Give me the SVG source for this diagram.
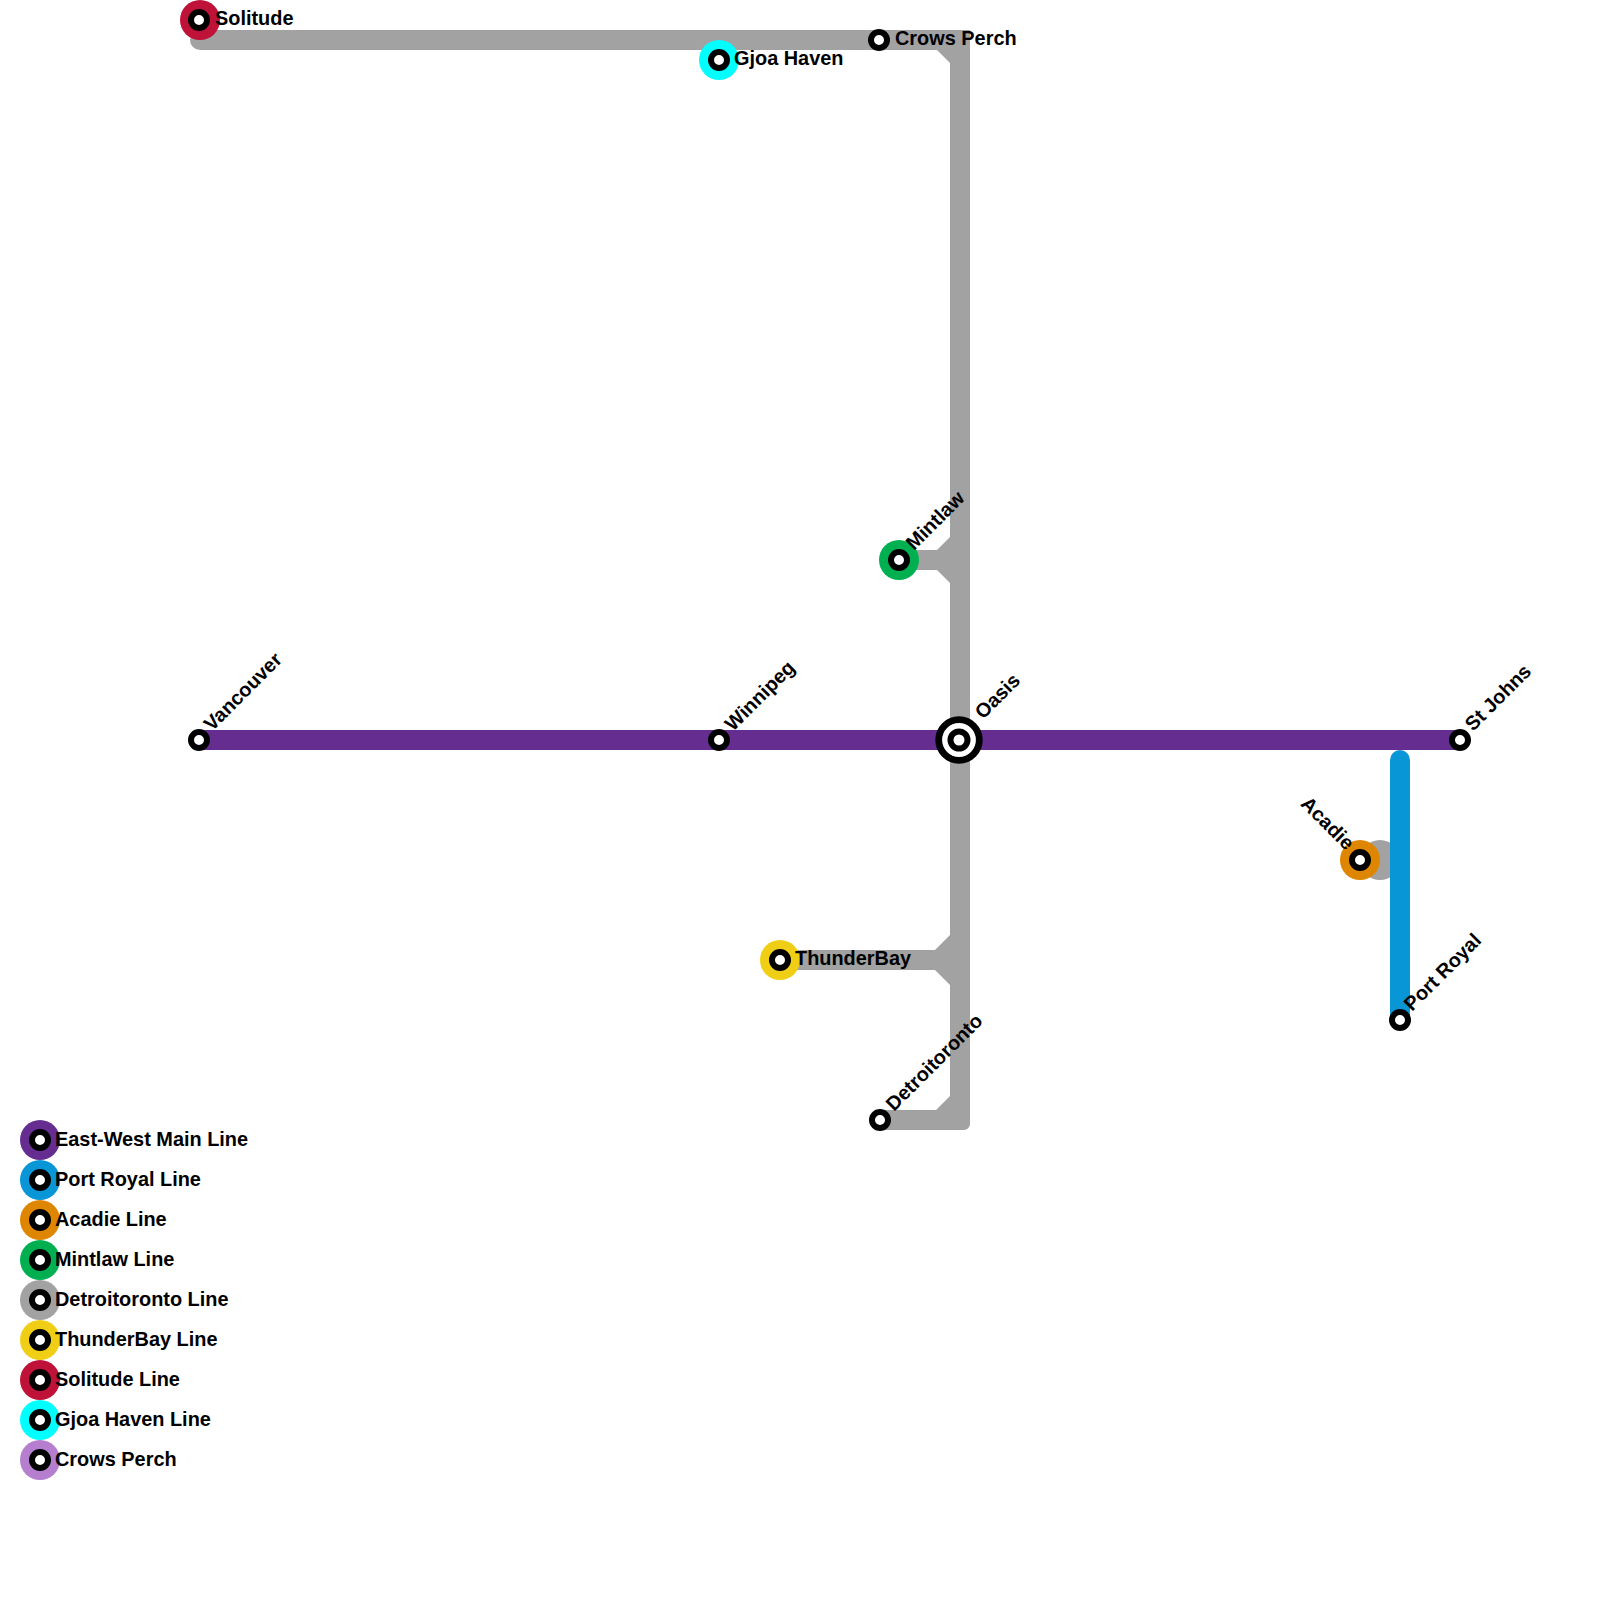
<svg xmlns="http://www.w3.org/2000/svg" width="1600" height="1600" viewBox="0 0 1600 1600">
<style>
.ln{fill:none;stroke-width:20;stroke-linejoin:miter}
.gray{stroke:#A2A2A2}
.gfill{fill:#A2A2A2}
.st{fill:#fff;stroke:#000;stroke-width:6}
.lbl{font-family:"Liberation Sans",Arial,sans-serif;font-weight:bold;font-size:19.9px;fill:#000}
</style>
<rect width="1600" height="1600" fill="#fff"/>
<g id="connectors">
  <path class="ln gray" d="M200,40 H960 V1100"/>
  <path class="ln gray" stroke-linecap="round" d="M200,40 H220"/>
  <polygon class="gfill" points="937,50 950,50 950,63"/>
  <path class="gfill" d="M950,1090 H970 V1124 A6,6 0 0 1 964,1130 H880 V1110 H936 L950,1096 Z"/>
  <path class="ln gray" d="M900,560 H960"/>
  <polygon class="gfill" points="937,550 950,550 950,537"/>
  <polygon class="gfill" points="937,570 950,570 950,583"/>
  <path class="ln gray" d="M780,960 H960"/>
  <polygon class="gfill" points="935,950 950,950 950,935"/>
  <polygon class="gfill" points="935,970 950,970 950,985"/>
  <path class="ln" stroke="#662D91" d="M200,740 H1460"/>
  <circle cx="1380" cy="860" r="20" fill="#A2A2A2"/>
  <path class="ln" stroke="#0896D7" stroke-linecap="round" d="M1400,760 V1020"/>
</g>
<g id="solitude"><circle cx="200" cy="20" r="20" fill="#BE1238"/><circle class="st" cx="199" cy="20" r="8"/><text class="lbl" x="215" y="25">Solitude</text></g>
<g id="gjoa-haven"><circle cx="719" cy="60" r="20" fill="#00FFFF"/><circle class="st" cx="719" cy="60" r="8"/><text class="lbl" x="734" y="65">Gjoa Haven</text></g>
<g id="crows-perch"><circle class="st" cx="879" cy="40" r="8"/><text class="lbl" x="895" y="45">Crows Perch</text></g>
<g id="mintlaw"><circle cx="899" cy="560" r="20" fill="#00B050"/><circle class="st" cx="899" cy="560" r="8"/><text class="lbl" transform="translate(914,551) rotate(-45)">Mintlaw</text></g>
<g id="vancouver"><circle class="st" cx="199" cy="740" r="8"/><text class="lbl" transform="translate(212,732) rotate(-45)">Vancouver</text></g>
<g id="winnipeg"><circle class="st" cx="719" cy="740" r="8"/><text class="lbl" transform="translate(733,732) rotate(-45)">Winnipeg</text></g>
<g id="oasis"><circle cx="959" cy="740" r="20.3" fill="#fff" stroke="#000" stroke-width="6.8"/><circle class="st" cx="959" cy="740" r="8.5"/><text class="lbl" transform="translate(983,720) rotate(-45)">Oasis</text></g>
<g id="st-johns"><circle class="st" cx="1460" cy="740" r="8"/><text class="lbl" transform="translate(1473,732) rotate(-45)">St Johns</text></g>
<g id="acadie"><circle cx="1360" cy="860" r="20" fill="#DF8600"/><circle class="st" cx="1360" cy="860" r="8"/><text class="lbl" text-anchor="end" transform="translate(1346,851) rotate(45)">Acadie</text></g>
<g id="port-royal"><circle class="st" cx="1400" cy="1020" r="8"/><text class="lbl" transform="translate(1412,1012) rotate(-45)">Port Royal</text></g>
<g id="thunderbay"><circle cx="780" cy="960" r="20" fill="#F0CE15"/><circle class="st" cx="780" cy="960" r="8"/><text class="lbl" x="795" y="965">ThunderBay</text></g>
<g id="detroitoronto"><circle class="st" cx="880" cy="1120" r="8"/><text class="lbl" transform="translate(894,1112) rotate(-45)">Detroitoronto</text></g>
<g id="legend">
  <g id="legend-east-west"><circle cx="40" cy="1140" r="20" fill="#662D91"/><circle class="st" cx="40" cy="1140" r="8"/><text class="lbl" x="55" y="1145.5">East-West Main Line</text></g>
  <g id="legend-port-royal"><circle cx="40" cy="1180" r="20" fill="#0896D7"/><circle class="st" cx="40" cy="1180" r="8"/><text class="lbl" x="55" y="1185.5">Port Royal Line</text></g>
  <g id="legend-acadie"><circle cx="40" cy="1220" r="20" fill="#DF8600"/><circle class="st" cx="40" cy="1220" r="8"/><text class="lbl" x="55" y="1225.5">Acadie Line</text></g>
  <g id="legend-mintlaw"><circle cx="40" cy="1260" r="20" fill="#00B050"/><circle class="st" cx="40" cy="1260" r="8"/><text class="lbl" x="55" y="1265.5">Mintlaw Line</text></g>
  <g id="legend-detroitoronto"><circle cx="40" cy="1300" r="20" fill="#A2A2A2"/><circle class="st" cx="40" cy="1300" r="8"/><text class="lbl" x="55" y="1305.5">Detroitoronto Line</text></g>
  <g id="legend-thunderbay"><circle cx="40" cy="1340" r="20" fill="#F0CE15"/><circle class="st" cx="40" cy="1340" r="8"/><text class="lbl" x="55" y="1345.5">ThunderBay Line</text></g>
  <g id="legend-solitude"><circle cx="40" cy="1380" r="20" fill="#BE1238"/><circle class="st" cx="40" cy="1380" r="8"/><text class="lbl" x="55" y="1385.5">Solitude Line</text></g>
  <g id="legend-gjoa-haven"><circle cx="40" cy="1420" r="20" fill="#00FFFF"/><circle class="st" cx="40" cy="1420" r="8"/><text class="lbl" x="55" y="1425.5">Gjoa Haven Line</text></g>
  <g id="legend-crows-perch"><circle cx="40" cy="1460" r="20" fill="#B57ECF"/><circle class="st" cx="40" cy="1460" r="8"/><text class="lbl" x="55" y="1465.5">Crows Perch</text></g>
</g>
</svg>
